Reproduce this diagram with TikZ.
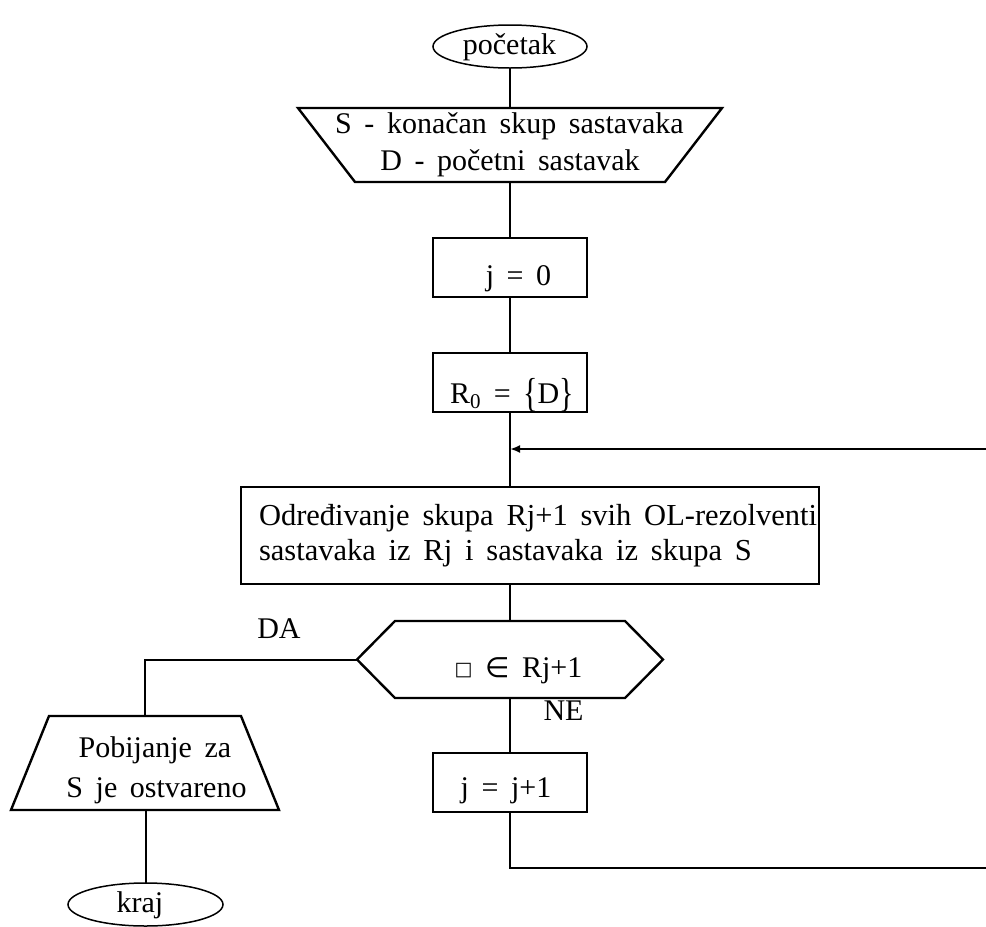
\documentclass[tikz,border=0pt]{standalone}
\usepackage{fontspec}
\setmainfont{Liberation Serif}
\newfontfamily\symfont{DejaVu Sans}
\usetikzlibrary{arrows.meta,shapes.geometric,calc,fit}
\begin{document}
\begin{tikzpicture}[x=1pt,y=-1pt,
  every node/.style={inner sep=0pt, outer sep=0pt},
  txt/.style={font=\fontsize{30}{35}\selectfont, anchor=base},
  bigtxt/.style={font=\fontsize{30.5}{35}\selectfont, anchor=base west},
  term/.style={draw, ellipse, line width=1.5pt},
  frame/.style={rectangle},
  outline/.style={draw, line width=2.4pt, line join=miter},
  wire/.style={draw, line width=2pt}]
\useasboundingbox (0,0) rectangle (986,927);
\newcommand\gap{\hspace{0.42em}}
\newcommand\tallbrace[1]{\raisebox{-3pt}{\scalebox{1}[1.35]{#1}}}

% start terminal
\node[term, minimum width=154pt, minimum height=43pt] (start) at (510,46.5) {};
\node[txt] (starttxt) at (509.5,54) {početak};

% input block (inverted trapezoid)
\path[outline] (298,108) -- (722,108) -- (665,182) -- (355,182) -- cycle;
\node[frame, minimum width=424pt, minimum height=74pt] (inp) at (510,145) {};
\node[txt] (inp1) at (509.5,133) {S\gap-\gap konačan\gap skup\gap sastavaka};
\node[txt] (inp2) at (510,170) {D\gap-\gap početni\gap sastavak};

% j = 0
\node[outline, frame, minimum width=154pt, minimum height=59pt] (jzero) at (510,267.5) {};
\node[txt] (jzerotxt) at (518.5,285) {j\gap=\gap0};

% R0 = {D}
\node[outline, frame, minimum width=154pt, minimum height=59pt] (rzero) at (510,382.5) {};
\node[txt] (rzerotxt) at (512,403) {R\textsubscript{0}\gap=\gap\tallbrace{\{}D\tallbrace{\}}};

% resolvent step
\node[bigtxt] (res1) at (259,525) {Određivanje\gap skupa\gap Rj+1\gap svih\gap OL-rezolventi};
\node[bigtxt] (res2) at (259,560) {sastavaka\gap iz\gap Rj\gap i\gap sastavaka\gap iz\gap skupa\gap S};
\coordinate (resnw) at (241,487);
\coordinate (resse) at ($(res1.east |- 0,584) + (2,0)$);
\node[outline, frame, fit=(resnw)(resse)] (resolve) {};

% decision (hexagon)
\path[outline] (357,659.5) -- (395,621) -- (625,621) -- (663,659.5) -- (625,698) -- (395,698) -- cycle;
\node[frame, minimum width=306pt, minimum height=77pt] (test) at (510,659.5) {};
\node[txt] (testtxt) at (518.5,677) {\raisebox{2pt}{\symfont\fontsize{19}{19}\selectfont □}\gap{\symfont\fontsize{28}{28}\selectfont ∈}\gap Rj+1};
\node[txt] (yes) at (279,638) {DA};
\node[txt] (no) at (563.5,720) {NE};

% j = j+1
\node[outline, frame, minimum width=154pt, minimum height=59pt] (jinc) at (510,782.5) {};
\node[txt] (jinctxt) at (506,797) {j\gap=\gap j+1};

% result (trapezoid)
\path[outline] (49,716) -- (241,716) -- (279,810) -- (11,810) -- cycle;
\node[frame, minimum width=268pt, minimum height=94pt] (done) at (145,763) {};
\node[txt] (done1) at (155,757) {Pobijanje\gap za};
\node[txt] (done2) at (156.5,797) {S\gap je\gap ostvareno};

% end terminal
\node[term, minimum width=155pt, minimum height=43pt] (stop) at (145.5,904.5) {};
\node[txt] (stoptxt) at (140,912) {kraj};

% connectors
\coordinate (loopin) at (510,449);
\coordinate (loopr) at (986,449);
\coordinate (loopturn) at (510,868);
\coordinate (loopout) at (986,868);
\coordinate (yesturn) at (145,659.5);

\path[wire] (start.south) -- (inp.north);
\path[wire] (inp.south) -- (jzero.north);
\path[wire] (jzero.south) -- (rzero.north);
\path[wire] (rzero.south) -- (loopin) -- (resolve.north -| loopin);
\path[wire] (resolve.south -| loopin) -- (test.north);
\path[wire] (test.west) -- (yesturn) -- (done.north -| yesturn);
\path[wire] (done.south -| stop.north) -- (stop.north);
\path[wire] (test.south) -- (jinc.north);
\path[wire] (jinc.south) -- (loopturn) -- (loopout);
\path[wire, -{Latex[length=10pt,width=8pt]}] (loopr) -- (loopin);
\end{tikzpicture}
\end{document}
